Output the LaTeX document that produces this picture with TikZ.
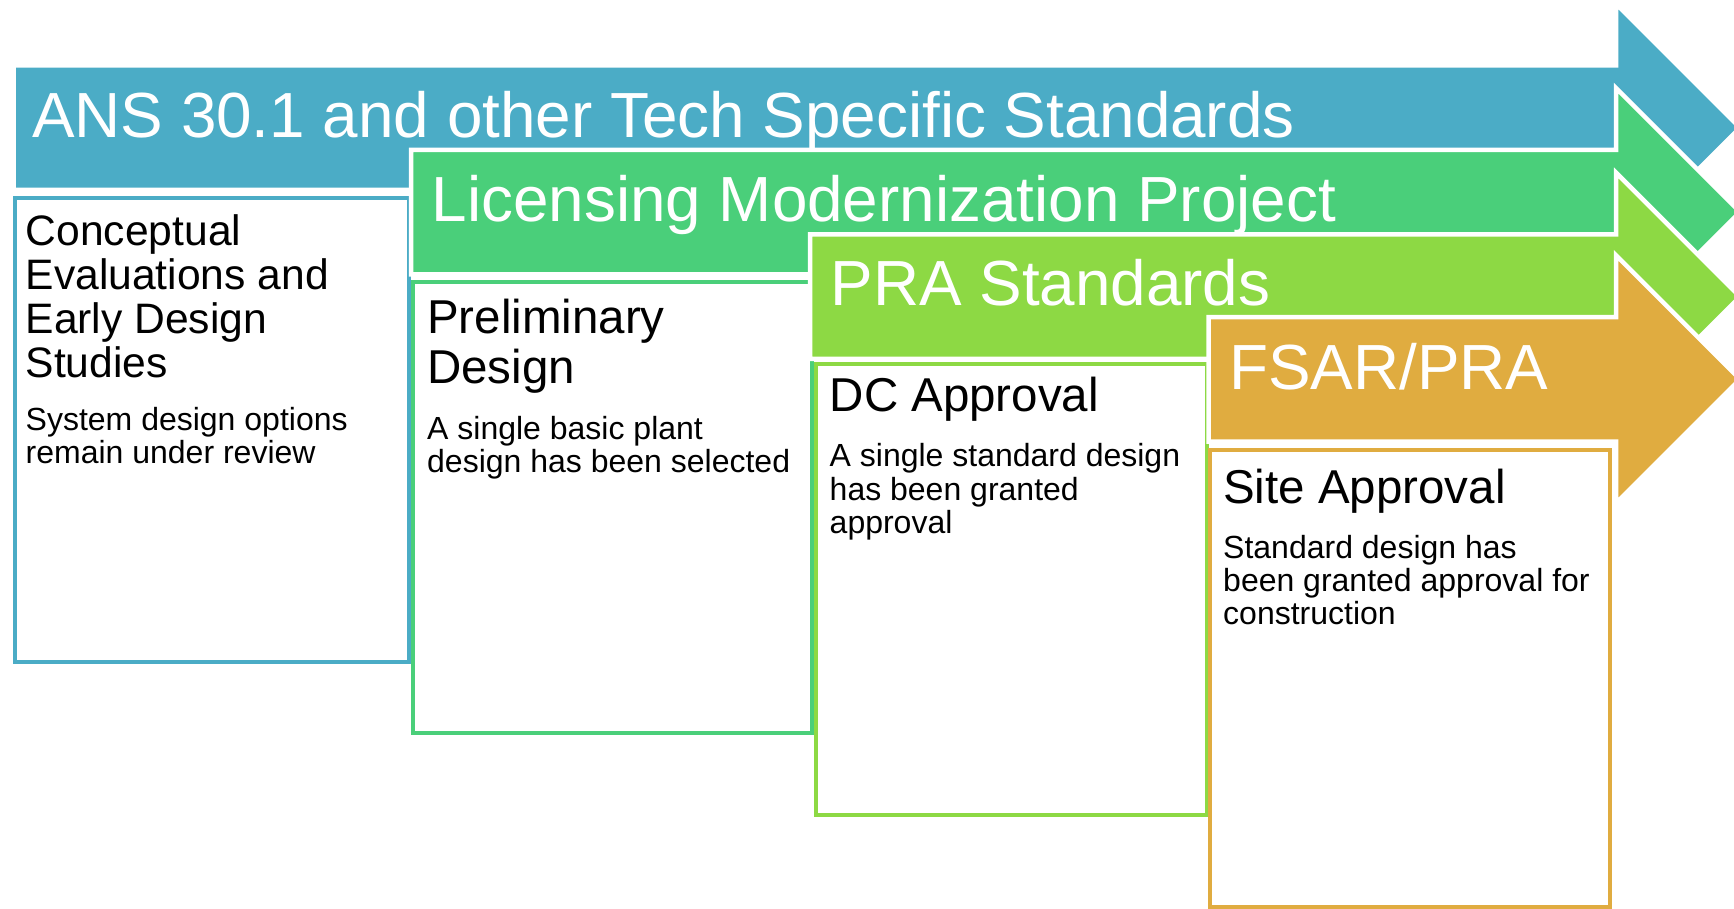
\documentclass[tikz,border=0pt]{standalone}
\usepackage{fontspec}
\setmainfont{Liberation Sans}
\definecolor{cblue}{RGB}{75,172,198}
\definecolor{cgreen}{RGB}{74,207,122}
\definecolor{clime}{RGB}{141,217,68}
\definecolor{corange}{RGB}{224,172,64}
\tikzset{
  stagearrow/.style={fill=#1, draw=white, line width=4.5pt, line join=miter},
  stagebox/.style={draw=#1, fill=white, line width=4.2pt, inner sep=0pt, anchor=north west},
  titletext/.style={text=white, anchor=base west, inner sep=0pt, font=\fontsize{63.8}{66}\selectfont},
  headtext/.style={anchor=base west, inner sep=0pt, align=left, font=\fontsize{47.5}{50}\selectfont},
  bodytext/.style={anchor=base west, inner sep=0pt, align=left, font=\fontsize{32}{33.3}\selectfont},
}
% arrow: left x, centre y, colour (base anchor of multi-line nodes = last line)
\newcommand\stagearrowshape[3]{%
  \path[stagearrow=#3] (#1,#2-62.25) -- (1616,#2-62.25) -- (1616,#2-124) -- (1740,#2)
    -- (1616,#2+124) -- (1616,#2+62.25) -- (#1,#2+62.25) -- cycle;}
\begin{document}
\begin{tikzpicture}[x=1pt,y=-1pt]
\useasboundingbox (0,0) rectangle (1734,908);
% stage 1
\stagearrowshape{13.5}{127.7}{cblue}
\node[stagebox=cblue, minimum width=393.5pt, minimum height=463.5pt] (b1) at (13.25,196.25) {};
% stage 2
\stagearrowshape{411}{212}{cgreen}
\node[stagebox=cgreen, minimum width=398.5pt, minimum height=450.5pt] (b2) at (411,280.25) {};
% stage 3
\stagearrowshape{810}{296.7}{clime}
\node[stagebox=clime, minimum width=390.5pt, minimum height=450.5pt] (b3) at (814,362.25) {};
% stage 4
\stagearrowshape{1208.5}{379.3}{corange}
\node[stagebox=corange, minimum width=399.5pt, minimum height=456.75pt] (b4) at (1208,448.25) {};
% titles
\node[titletext] (t1) at (32,137.5) {ANS 30.1 and other Tech Specific Standards};
\node[titletext] (t2) at (431.5,221.5) {Licensing Modernization Project};
\node[titletext] (t3) at (830.5,305.5) {PRA Standards};
\node[titletext] (t4) at (1229,389) {FSAR/PRA};
% box texts
\node[headtext, font=\fontsize{42.6}{44}\selectfont] (h1) at (25.5,377) {Conceptual\\Evaluations and\\Early Design\\Studies};
\node[bodytext] (d1) at (25.5,463.3) {System design options\\remain under review};
\node[headtext] (h2) at (427,383) {Preliminary\\Design};
\node[bodytext] (d2) at (427,472.3) {A single basic plant\\design has been selected};
\node[headtext] (h3) at (829.5,411.7) {DC Approval};
\node[bodytext] (d3) at (829.5,533.3) {A single standard design\\has been granted\\approval};
\node[headtext] (h4) at (1223,503) {Site Approval};
\node[bodytext] (d4) at (1223,624.6) {Standard design has\\been granted approval for\\construction};
\end{tikzpicture}
\end{document}
